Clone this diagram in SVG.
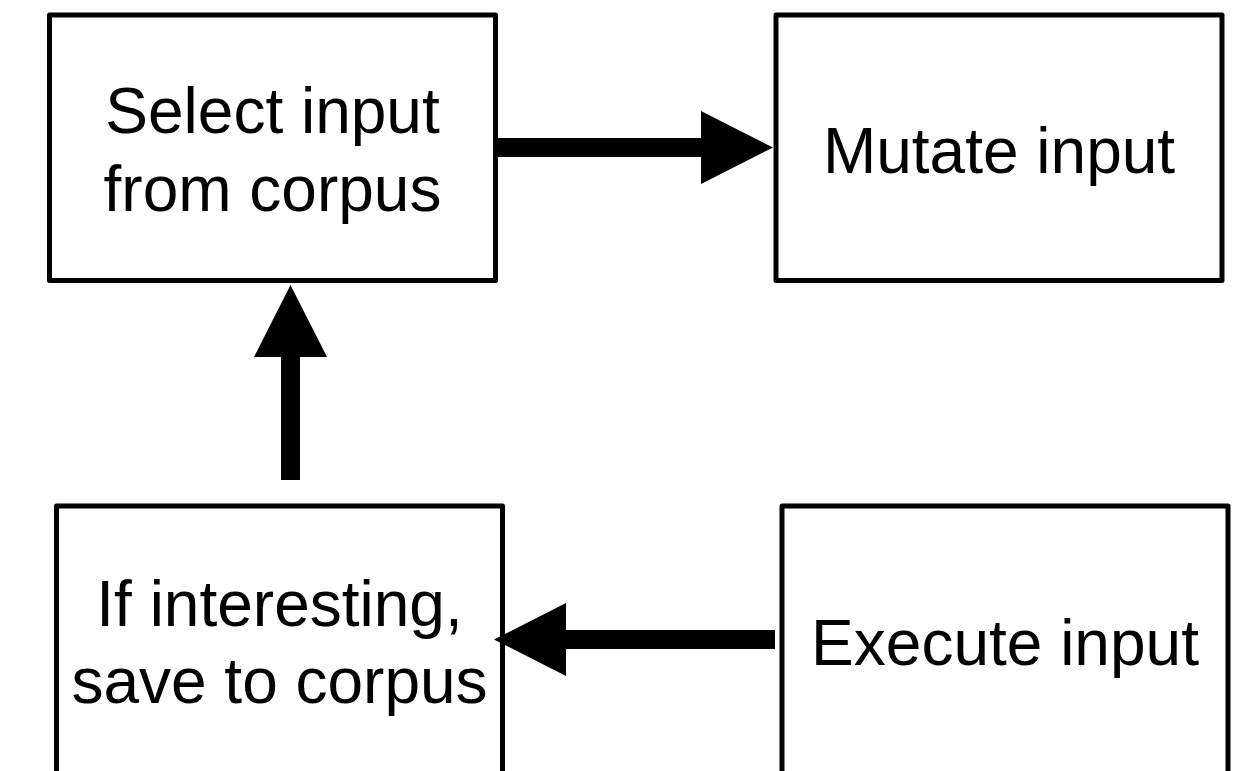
<svg xmlns="http://www.w3.org/2000/svg" width="1250" height="771" viewBox="0 0 1250 771">
  <style>
    .box { fill: #ffffff; stroke: #000000; stroke-width: 5; stroke-linejoin: round; }
    .label { font-family: "Liberation Sans", Arial, Helvetica, sans-serif; font-size: 64px; fill: #000000; text-anchor: middle; }
    .conn { fill: none; stroke: #000000; stroke-width: 19; stroke-linecap: butt; }
  </style>
  <defs>
    <marker id="head" markerUnits="userSpaceOnUse" markerWidth="74" markerHeight="74" refX="0" refY="36.5" orient="auto" viewBox="0 0 74 74">
      <path d="M0,0 L72,36.5 L0,73 Z" fill="#000000"/>
    </marker>
  </defs>
  <rect width="1250" height="771" fill="#ffffff"/>

  <g id="node-select">
    <rect class="box" x="49.5" y="15" width="446" height="265.5"/>
    <text class="label" x="272.5" y="133">Select input</text>
    <text class="label" x="272.5" y="211">from corpus</text>
  </g>

  <g id="node-mutate">
    <rect class="box" x="776" y="15" width="446" height="265.5"/>
    <text class="label" x="999" y="173">Mutate input</text>
  </g>

  <g id="node-save">
    <rect class="box" x="56.5" y="506" width="446" height="290"/>
    <text class="label" x="279.5" y="626">If interesting,</text>
    <text class="label" x="279.5" y="703">save to corpus</text>
  </g>

  <g id="node-execute">
    <rect class="box" x="782" y="506" width="446" height="290"/>
    <text class="label" x="1005" y="665">Execute input</text>
  </g>

  <g id="connectors">
    <path class="conn" d="M495,147.5 L701,147.5" marker-end="url(#head)"/>
    <path class="conn" d="M290.5,480 L290.5,357" marker-end="url(#head)"/>
    <path class="conn" d="M775,639.5 L566,639.5" marker-end="url(#head)"/>
  </g>
</svg>
